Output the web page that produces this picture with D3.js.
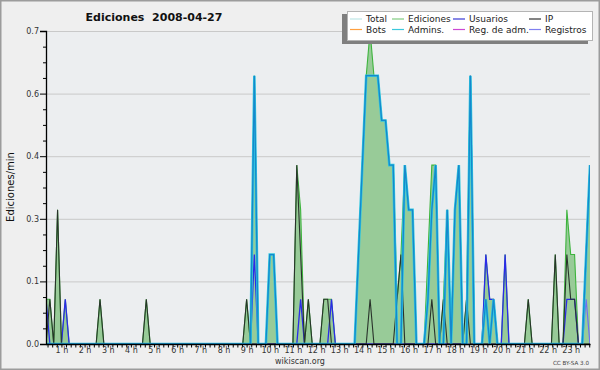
<!DOCTYPE html>
<html>
<head>
<meta charset="utf-8">
<script src="https://cdn.jsdelivr.net/npm/d3@7"></script>
<style>
body { margin: 0; background: #efefef; }
svg { display: block; }
text { font-family: "DejaVu Sans", sans-serif; }
</style>
</head>
<body>
<div id="chart"></div>
<script>
// values are edits per minute in 10-minute bins ("HH:MM" = start of the bin), empty bins are 0
var ediciones = [["00:20",0.1],["00:30",0.1],["00:50",0.3],["01:10",0.1],["02:40",0.1],["04:40",0.1],
    ["09:00",0.1],["09:20",0.6],["10:00",0.2],["10:10",0.2],["11:10",0.4],["11:20",0.3],["11:40",0.1],
    ["12:20",0.1],["12:30",0.1],["12:40",0.1],["13:50",0.2],["14:00",0.4],["14:10",0.6],["14:20",0.7],
    ["14:30",0.6],["14:40",0.6],["14:50",0.5],["15:00",0.5],["15:10",0.4],["15:20",0.4],["15:30",0.1],
    ["15:40",0.2],["15:50",0.4],["16:00",0.3],["16:10",0.3],["16:50",0.2],["17:00",0.4],["17:10",0.4],
    ["17:30",0.1],["17:40",0.3],["18:00",0.3],["18:10",0.4],["18:30",0.1],["18:40",0.6],["19:20",0.2],
    ["19:30",0.1],["19:40",0.1],["20:10",0.2],["21:10",0.1],["22:20",0.2],["22:50",0.3],["23:00",0.2],
    ["23:10",0.2],["23:40",0.2],["23:50",0.4]];
var usuarios = [["00:20",0.1],["01:10",0.1],["09:20",0.2],["11:20",0.1],["12:40",0.1],["18:40",0.6],
    ["19:20",0.2],["19:30",0.1],["19:40",0.1],["20:10",0.2],["22:50",0.1],["23:00",0.1],["23:10",0.1],
    ["23:40",0.2],["23:50",0.4]];
var ip = [["00:30",0.1],["00:50",0.3],["02:40",0.1],["04:40",0.1],["09:00",0.1],["11:10",0.4],["11:20",0.2],
    ["11:40",0.1],["12:20",0.1],["12:30",0.1],["14:20",0.1],["15:30",0.1],["15:40",0.2],["17:00",0.1],
    ["17:30",0.1],["18:30",0.1],["21:10",0.1],["22:20",0.2],["22:50",0.2],["23:00",0.1],["23:10",0.1]];
var admins = [["09:20",0.6],["10:00",0.2],["10:10",0.2],["13:50",0.2],["14:00",0.4],["14:10",0.6],["14:20",0.6],
    ["14:30",0.6],["14:40",0.6],["14:50",0.5],["15:00",0.5],["15:10",0.4],["15:20",0.4],["15:50",0.4],
    ["16:00",0.3],["16:10",0.3],["16:50",0.1],["17:00",0.3],["17:10",0.4],["17:40",0.3],["18:00",0.3],
    ["18:10",0.4],["18:40",0.6],["19:20",0.1],["19:40",0.1],["23:40",0.2],["23:50",0.4]];
var registros = [["23:40",0.1]];

var yTicks = [0, 0.14, 0.28, 0.42, 0.56, 0.70];
var hourTicks = d3.range(1, 24);

var legendItems = [
    { name: "Total", color: "#bfe6e6" }, { name: "Ediciones", color: "#80cc80" },
    { name: "Usuarios", color: "#3a3ad6" }, { name: "IP", color: "#333333" },
    { name: "Bots", color: "#ffa040" }, { name: "Admins.", color: "#3cc8dc" },
    { name: "Reg. de adm.", color: "#cc48d4" }, { name: "Registros", color: "#8080f0" }
];

function init() {
    var w = 600, h = 370;
    var left = 46, right = 590, bottom = 344, top = 31;

    var svg = d3.select("#chart").append("svg")
        .attr("width", w)
        .attr("height", h);

    svg.append("rect").attr("width", w).attr("height", h).attr("fill", "#efefef");
    svg.append("rect").attr("x", 0.75).attr("y", 0.75).attr("width", w - 1.5).attr("height", h - 1.5)
        .attr("fill", "none").attr("stroke", "#9c9c9c").attr("stroke-width", 1.5);

    var x = d3.scaleLinear().domain([20, 1430]).range([left, right]);
    var y = d3.scaleLinear().domain([0, 0.7]).range([bottom, top]);

    var bins = d3.range(20, 1440, 10);
    function toMin(t) { var p = t.split(":"); return +p[0] * 60 + +p[1]; }
    function expand(list) {
        var m = new Map(list.map(d => [toMin(d[0]), d[1]]));
        return bins.map(b => ({ t: b, v: m.get(b) || 0 }));
    }

    svg.append("rect").attr("x", left).attr("y", top)
        .attr("width", right - left).attr("height", bottom - top).attr("fill", "#eceef0");

    // grid
    svg.append("g")
        .attr("transform", `translate(${left},0)`)
        .call(d3.axisLeft(y).tickValues(yTicks.slice(1)).tickSize(-(right - left)).tickFormat(""))
        .call(g => g.select(".domain").remove())
        .call(g => g.selectAll("line").attr("stroke", "#c9c9c9"));

    svg.append("clipPath").attr("id", "clip").append("rect")
        .attr("x", left).attr("y", 0).attr("width", right - left).attr("height", bottom + 1);
    var plot = svg.append("g").attr("clip-path", "url(#clip)");

    var line = d3.line().x(d => x(d.t)).y(d => y(d.v));
    var area = d3.area().x(d => x(d.t)).y0(y(0)).y1(d => y(d.v));

    var ed = expand(ediciones);
    plot.append("path").datum(ed).attr("d", area).attr("fill", "#98cb98");
    plot.append("path").datum(ed).attr("d", line).attr("fill", "none")
        .attr("stroke", "#3db43d").attr("stroke-width", 1.1);

    plot.append("path").datum(expand(usuarios)).attr("d", line).attr("fill", "none")
        .attr("stroke", "#2b2be8").attr("stroke-width", 1.3);
    plot.append("path").datum(expand(registros)).attr("d", line).attr("fill", "none")
        .attr("stroke", "#6f6ff2").attr("stroke-width", 1.2);
    plot.append("path").datum(expand(ip)).attr("d", line).attr("fill", "none")
        .attr("stroke", "#29332b").attr("stroke-width", 1.1);

    var adm = expand(admins);
    plot.append("path").datum(adm).attr("d", line).attr("fill", "none")
        .attr("stroke", "#2fc8e0").attr("stroke-width", 2.6);
    plot.append("path").datum(adm).attr("d", line).attr("fill", "none")
        .attr("stroke", "#1588cc").attr("stroke-width", 1.3);

    // y axis
    var minorY = d3.range(0, 0.7001, 0.035).filter(v => !yTicks.some(t => Math.abs(t - v) < 1e-6));
    svg.append("g")
        .attr("transform", `translate(${left},0)`)
        .call(d3.axisLeft(y).tickValues(minorY).tickSize(3).tickFormat(""))
        .call(g => g.select(".domain").remove())
        .call(g => g.selectAll("line").attr("stroke", "#000"));
    var yAxis = svg.append("g")
        .attr("transform", `translate(${left},0)`)
        .call(d3.axisLeft(y).tickValues(yTicks).tickSize(6).tickPadding(1).tickFormat(d3.format(".1f")));
    yAxis.select(".domain").attr("stroke", "#000").attr("stroke-width", 1.3);
    yAxis.selectAll("text").attr("font-family", "DejaVu Sans").attr("font-size", 8).attr("fill", "#333");

    // x axis
    var minorX = d3.range(24, 1440, 12).filter(m => m >= 20 && m <= 1430);
    var xAxis = svg.append("g")
        .attr("transform", `translate(0,${bottom})`)
        .call(d3.axisBottom(x).tickValues(minorX).tickSizeInner(3.5).tickSizeOuter(0).tickFormat(""));
    xAxis.select(".domain").attr("stroke", "#000").attr("stroke-width", 1.3);
    xAxis.selectAll("line").attr("stroke", "#000");
    var xLabels = svg.append("g")
        .attr("transform", `translate(0,${bottom})`)
        .call(d3.axisBottom(x).tickValues(hourTicks.map(d => d * 60)).tickSize(0).tickPadding(3.5)
            .tickFormat(d => (d / 60) + " h"));
    xLabels.select(".domain").remove();
    xLabels.selectAll("text").attr("font-family", "DejaVu Sans").attr("font-size", 8).attr("fill", "#333");

    // titles
    svg.append("text").attr("x", 154).attr("y", 21).attr("text-anchor", "middle")
        .attr("font-size", 11).attr("font-weight", "bold").attr("fill", "#111")
        .style("white-space", "pre").text("Ediciones  2008-04-27");
    svg.append("text").attr("transform", "translate(13.5,187) rotate(-90)").attr("text-anchor", "middle")
        .attr("font-family", "DejaVu Sans Mono").attr("font-size", 10).attr("fill", "#111")
        .text("Ediciones/min");
    svg.append("text").attr("x", 300).attr("y", 364).attr("text-anchor", "middle")
        .attr("font-size", 8).attr("fill", "#333").text("wikiscan.org");
    svg.append("text").attr("x", 589).attr("y", 364.5).attr("text-anchor", "end")
        .attr("font-size", 5.6).attr("fill", "#444").text("CC BY-SA 3.0");

    // legend
    var lg = svg.append("g");
    lg.append("rect").attr("x", 342).attr("y", 14).attr("width", 246).attr("height", 30).attr("fill", "#7f7f7f");
    lg.append("rect").attr("x", 347.5).attr("y", 11.5).attr("width", 245).attr("height", 29)
        .attr("fill", "#fff").attr("stroke", "#b4b4b4");
    var colX = [350, 392, 453, 529];
    var rowY = [19, 29.5];
    legendItems.forEach((d, i) => {
        var cx = colX[i % 4], cy = rowY[Math.floor(i / 4)];
        lg.append("line").attr("x1", cx).attr("x2", cx + 12).attr("y1", cy).attr("y2", cy)
            .attr("stroke", d.color).attr("stroke-width", 1.2);
        lg.append("text").attr("x", cx + 16).attr("y", cy + 3.3)
            .attr("font-size", 9).attr("fill", "#222").text(d.name);
    });
}

window.onload = init;
</script>
</body>
</html>
